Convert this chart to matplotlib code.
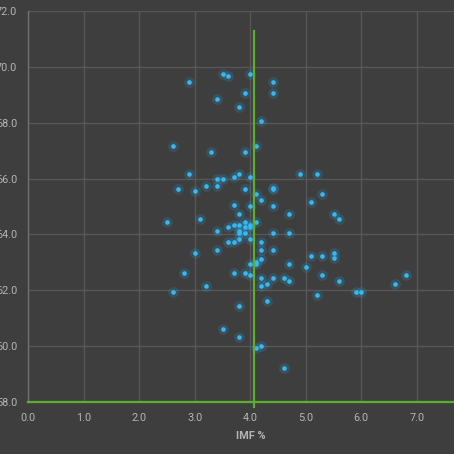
import matplotlib
matplotlib.use('Agg')
import matplotlib.pyplot as plt

# IMF % vs score
imf = [2.9, 3.5, 3.6, 4.0, 4.4, 3.9, 4.4, 3.4, 3.8, 4.2,
       2.6, 3.3, 3.9, 4.1,
       2.9, 3.4, 3.5, 3.7, 3.8, 4.0, 4.9, 5.2,
       2.7, 3.0, 3.2, 3.4, 3.9, 4.4, 4.4, 4.1, 4.2, 5.3, 5.1,
       3.7, 4.0, 4.4, 3.8, 4.7, 5.5, 5.6,
       2.5, 3.1, 3.9, 4.1,
       3.7, 3.8, 3.6, 3.9, 4.0, 4.0,
       3.4, 3.8, 3.8, 3.9, 4.4, 4.7,
       3.6, 3.7, 3.8, 4.0, 4.2,
       3.0, 3.4, 4.2, 4.4, 4.2,
       4.1, 4.1, 4.0, 4.7, 5.0,
       5.1, 5.3, 5.5, 5.5,
       2.8, 3.7, 3.9, 4.0, 4.2, 4.4, 4.6, 4.7,
       4.3, 4.2, 3.2, 2.6,
       5.3, 5.6, 5.2, 5.9, 6.0, 6.6, 6.8,
       4.3, 3.8, 3.5, 3.8, 4.2, 4.1, 4.6]
score = [69.46, 69.75, 69.66, 69.75, 69.46, 69.05, 69.05, 68.85, 68.56, 68.05,
         67.15, 66.95, 66.95, 67.15,
         66.15, 66.0, 66.0, 66.05, 66.15, 66.05, 66.15, 66.15,
         65.63, 65.55, 65.75, 65.75, 65.62, 65.62, 65.68, 65.43, 65.24, 65.44, 65.15,
         65.04, 65.02, 65.02, 64.72, 64.72, 64.74, 64.54,
         64.44, 64.54, 64.44, 64.44,
         64.34, 64.34, 64.25, 64.26, 64.34, 64.25,
         64.13, 64.13, 64.05, 64.06, 64.06, 64.06,
         63.74, 63.74, 63.84, 63.84, 63.74,
         63.33, 63.43, 63.43, 63.43, 63.13,
         63.03, 62.93, 62.93, 62.94, 62.83,
         63.23, 63.23, 63.33, 63.14,
         62.63, 62.63, 62.63, 62.55, 62.44, 62.44, 62.44, 62.35,
         62.23, 62.14, 62.14, 61.93,
         62.54, 62.35, 61.83, 61.93, 61.93, 62.24, 62.55,
         61.63, 61.44, 60.62, 60.33, 60.02, 59.93, 59.23]

xticks = [0, 1, 2, 3, 4, 5, 6, 7]
yticks = [58, 60, 62, 64, 66, 68, 70, 72]
avg_imf = 4.06

bg = '#3e3e3e'
fig = plt.figure(figsize=(4.54, 4.54), dpi=100, facecolor=bg)
# axes runs past the right edge of the picture, like the crop in the reference
ax = fig.add_axes([28.3/454, 52/454, 444/454, 391/454], facecolor=bg)

ax.scatter(imf, score, s=60, color='#2a9fd8', alpha=0.2, linewidths=0, zorder=3)
ax.scatter(imf, score, s=11, color='#36b8f2', linewidths=0, zorder=4)

ax.plot([avg_imf, avg_imf], [57.82, 71.3], color='#5cae2e', lw=1.6, zorder=5, clip_on=False)
ax.axhline(58, color='#5cae2e', lw=1.6, zorder=5, clip_on=False)

ax.set_xlim(0, 8)
ax.set_ylim(58, 72)
ax.set_xticks(xticks)
ax.set_yticks(yticks)
ax.set_xticklabels(['%.1f' % v for v in xticks])
ax.set_yticklabels(['%.1f' % v for v in yticks])
ax.grid(True, color='#575757', lw=1.0, zorder=0)
ax.set_axisbelow(True)
ax.tick_params(length=0, colors='#b4b4b4', labelsize=7.8, pad=8)
for t in ax.get_xticklabels() + ax.get_yticklabels():
    t.set_fontfamily('Roboto')

for s in ['top', 'right', 'bottom']:
    ax.spines[s].set_visible(False)
ax.spines['left'].set_color('#707070')
ax.spines['left'].set_linewidth(1.0)

ax.set_xlabel('IMF %', color='#b4b4b4', fontsize=7.8, fontweight='bold',
              fontfamily='Roboto', labelpad=6)

fig.savefig('out.png', dpi=100, facecolor=bg)
